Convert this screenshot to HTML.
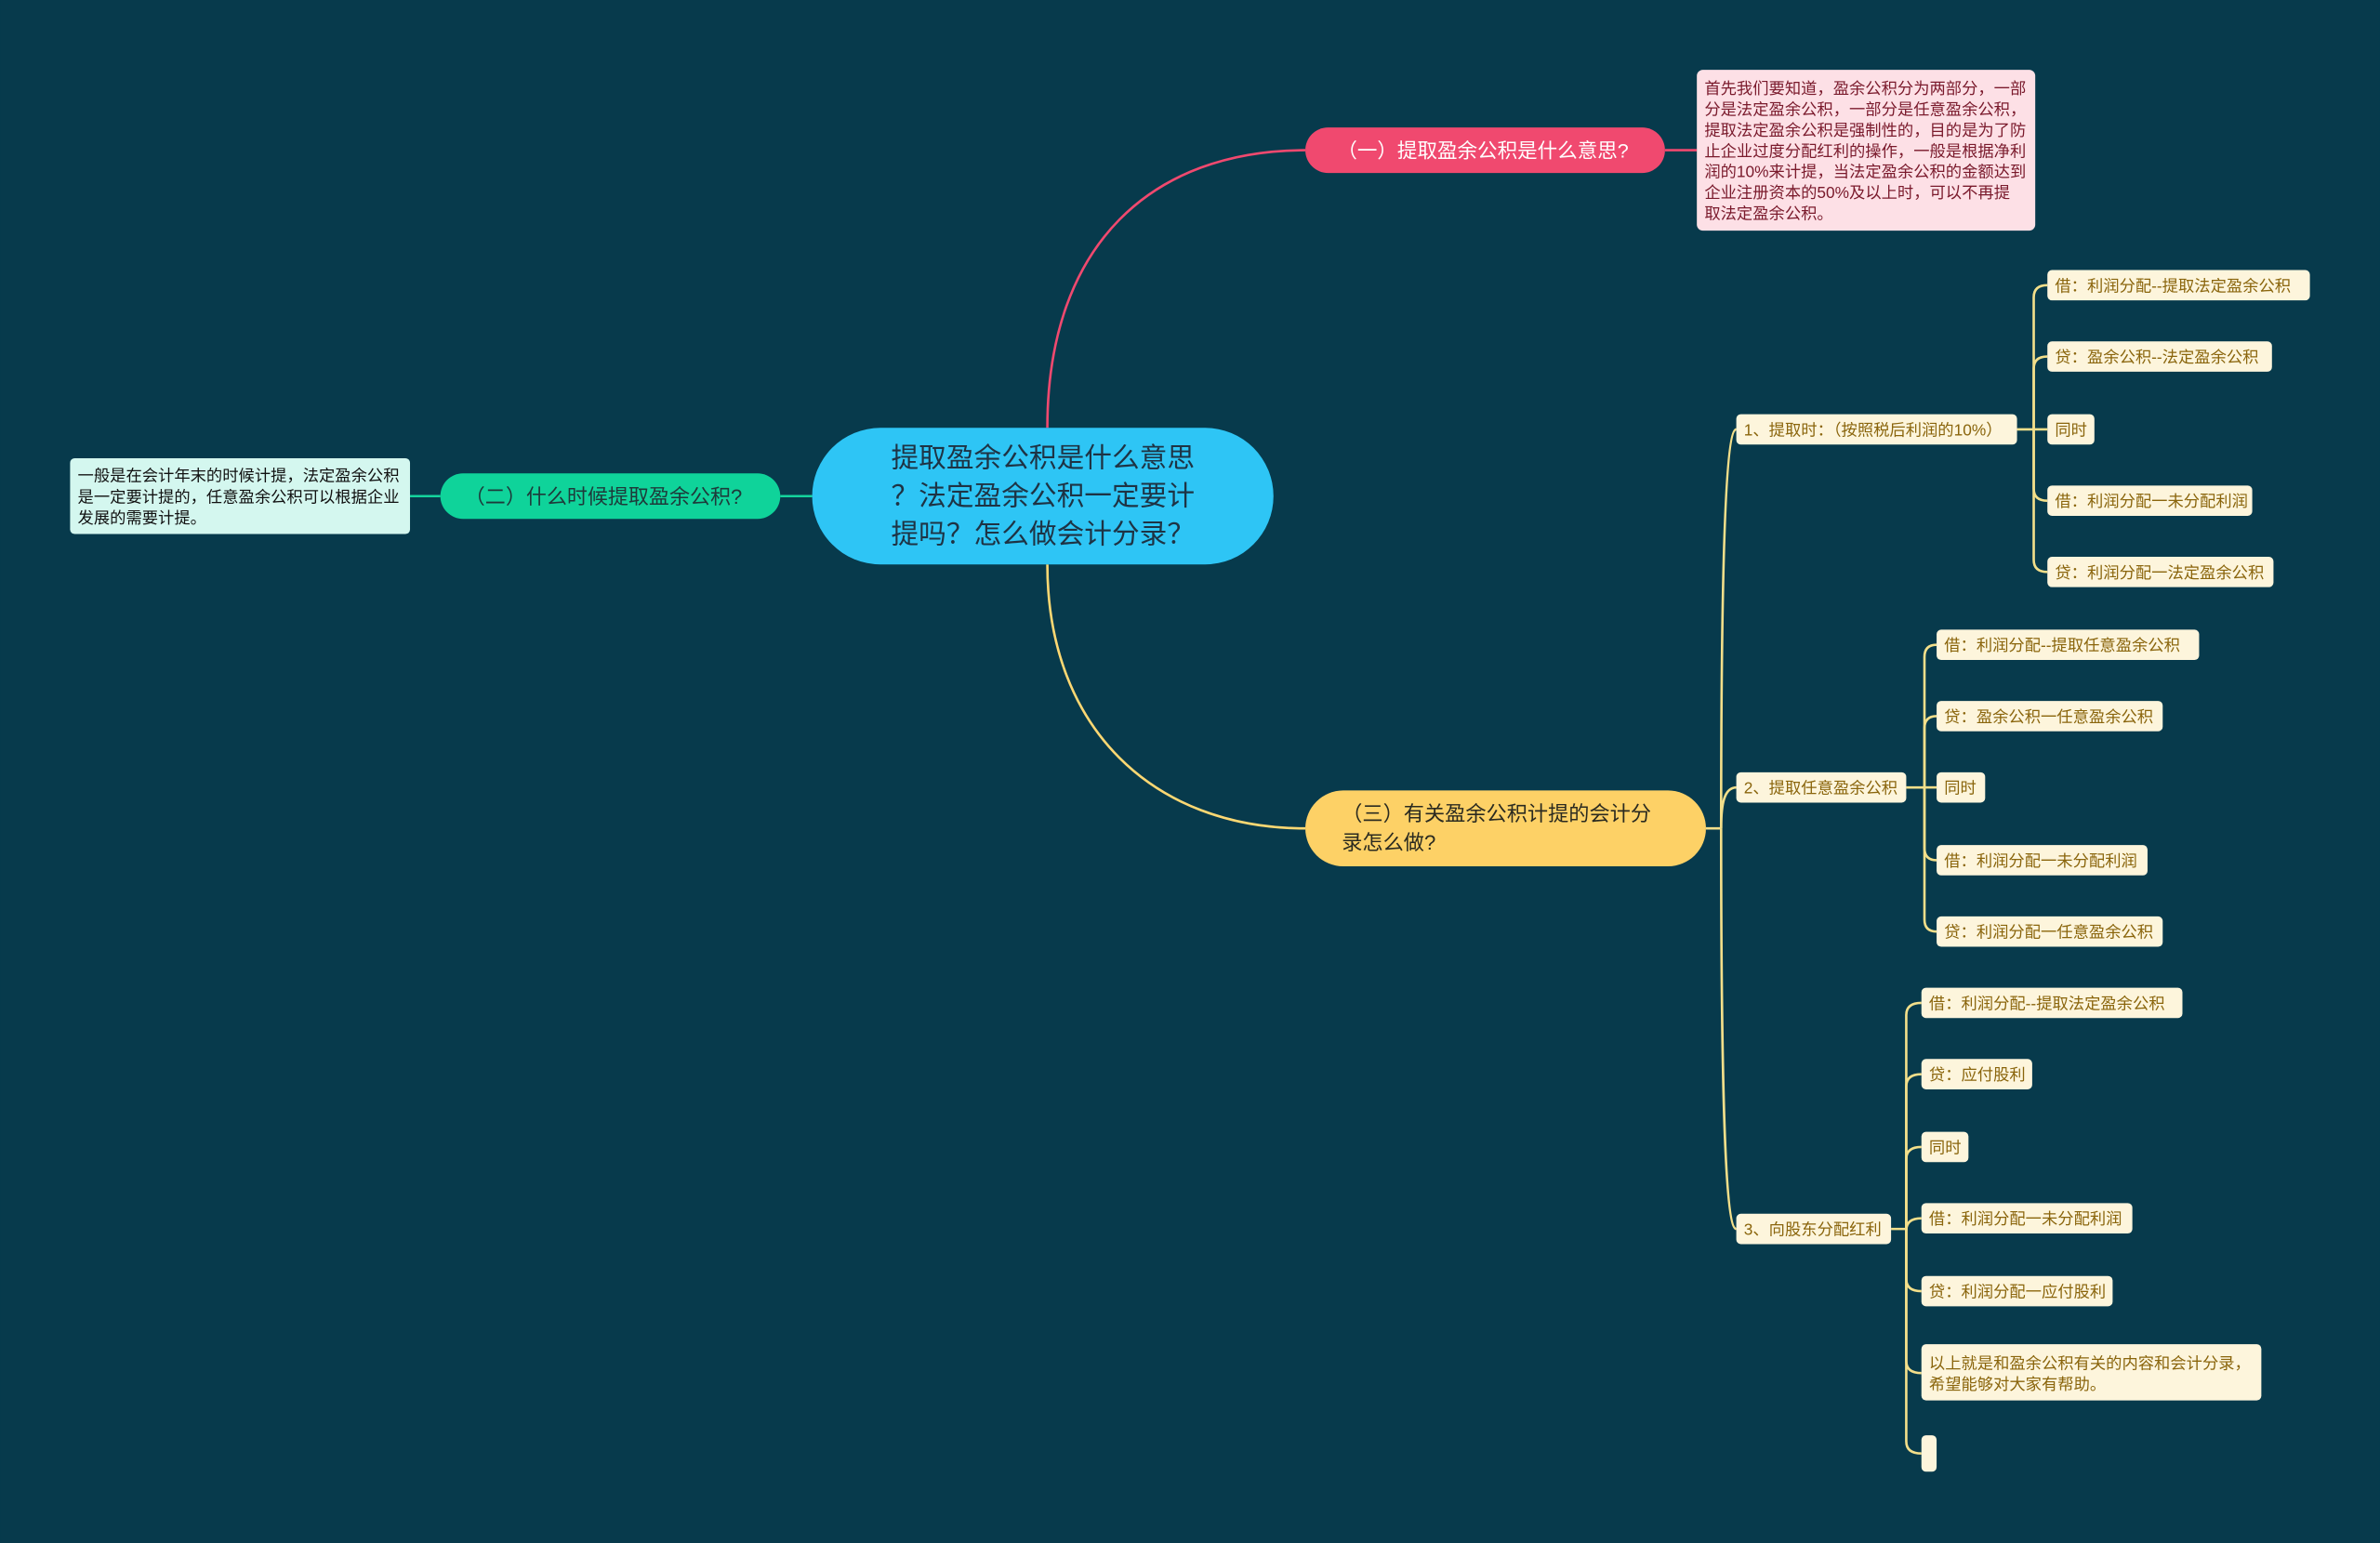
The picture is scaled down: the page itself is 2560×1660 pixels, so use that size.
<!DOCTYPE html>
<html><head><meta charset="utf-8"><style>
html,body{margin:0;padding:0;background:#073a4c;width:2560px;height:1660px;overflow:hidden}
svg{display:block}
text{font-family:"Liberation Sans","Noto Sans CJK SC",sans-serif}
</style></head><body>
<svg width="2560" height="1660" viewBox="0 0 1568 1017" xmlns="http://www.w3.org/2000/svg">
<rect width="1568" height="1017" fill="#073a4c"/>
<path d="M690,282 C690,160 760,99 860,99" fill="none" stroke="#f0496f" stroke-width="1.6"/>
<path d="M690,372 C690,480 760,546 860,546" fill="none" stroke="#fdd873" stroke-width="1.6"/>
<line x1="514" y1="327" x2="535" y2="327" stroke="#14d49d" stroke-width="1.6"/>
<line x1="270" y1="327" x2="290" y2="327" stroke="#14d49d" stroke-width="1.6"/>
<line x1="1097" y1="99" x2="1118" y2="99" stroke="#f0496f" stroke-width="1.6"/>
<g fill="none" stroke="#f3df8a" stroke-width="1.6">
<path d="M1124,546 H1134"/>
<path d="M1134,546 C1134,400 1136,283 1144,283"/>
<path d="M1134,546 C1134,530 1136,519 1144,519"/>
<path d="M1134,546 C1134,700 1136,810 1144,810"/>
<path d="M1329,283 H1340"/>
<path d="M1340,283 V196 Q1340,188 1349,188"/>
<path d="M1340,283 V243 Q1340,235 1349,235"/>
<path d="M1340,283 H1349"/>
<path d="M1340,283 V322 Q1340,330 1349,330"/>
<path d="M1340,283 V369 Q1340,377 1349,377"/>
<path d="M1256,519 H1268"/>
<path d="M1268,519 V433 Q1268,425 1276,425"/>
<path d="M1268,519 V480 Q1268,472 1276,472"/>
<path d="M1268,519 H1276"/>
<path d="M1268,519 V559 Q1268,567 1276,567"/>
<path d="M1268,519 V606 Q1268,614 1276,614"/>
<path d="M1246,810 H1256"/>
<path d="M1256,810 V669 Q1256,661 1266,661"/>
<path d="M1256,810 V716 Q1256,708 1266,708"/>
<path d="M1256,810 V764 Q1256,756 1266,756"/>
<path d="M1256,810 V811 Q1256,803 1266,803"/>
<path d="M1256,810 V843 Q1256,851 1266,851"/>
<path d="M1256,810 V897 Q1256,905 1266,905"/>
<path d="M1256,810 V950 Q1256,958 1266,958"/>
</g>
<rect x="535" y="282" width="304" height="90" rx="45" fill="#2ec5f5"/>
<g font-size="18.2" fill="#1e3344">
<text x="587" y="308">提取盈余公积是什么意思</text>
<text x="587" y="333">？法定盈余公积一定要计</text>
<text x="587" y="358">提吗？怎么做会计分录？</text>
</g>
<rect x="860" y="84" width="237" height="30" rx="15" fill="#f0496f"/>
<text x="881" y="104" font-size="13.2" fill="#fff">（一）提取盈余公积是什么意思?</text>
<rect x="1118" y="46" width="223" height="106" rx="4" fill="#fde0e6"/>
<g font-size="10.6" fill="#7a1a2c">
<text x="1123" y="62">首先我们要知道，盈余公积分为两部分，一部</text>
<text x="1123" y="75.7">分是法定盈余公积，一部分是任意盈余公积，</text>
<text x="1123" y="89.4">提取法定盈余公积是强制性的，目的是为了防</text>
<text x="1123" y="103.1">止企业过度分配红利的操作，一般是根据净利</text>
<text x="1123" y="116.8">润的10%来计提，当法定盈余公积的金额达到</text>
<text x="1123" y="130.5">企业注册资本的50%及以上时，可以不再提</text>
<text x="1123" y="144.2">取法定盈余公积。</text>
</g>
<rect x="290" y="312" width="224" height="30" rx="15" fill="#0fd39a"/>
<text x="306" y="332" font-size="13.5" fill="#1e3a3a">（二）什么时候提取盈余公积?</text>
<rect x="46" y="302" width="224" height="50" rx="3" fill="#d4f7ef"/>
<g font-size="10.6" fill="#111">
<text x="51" y="317">一般是在会计年末的时候计提，法定盈余公积</text>
<text x="51" y="331">是一定要计提的，任意盈余公积可以根据企业</text>
<text x="51" y="345">发展的需要计提。</text>
</g>
<rect x="860" y="521" width="264" height="50" rx="25" fill="#fdd166"/>
<g font-size="13.6" fill="#2a2a20">
<text x="884" y="541">（三）有关盈余公积计提的会计分</text>
<text x="884" y="560">录怎么做?</text>
</g>
<g fill="#fdf5dc">
<rect x="1144" y="273" width="185" height="20" rx="3"/>
<rect x="1144" y="509" width="112" height="20" rx="3"/>
<rect x="1144" y="800" width="102" height="20" rx="3"/>
<rect x="1349" y="178" width="173" height="20" rx="3"/>
<rect x="1349" y="225" width="148" height="20" rx="3"/>
<rect x="1349" y="273" width="31" height="20" rx="3"/>
<rect x="1349" y="320" width="135" height="20" rx="3"/>
<rect x="1349" y="367" width="149" height="20" rx="3"/>
<rect x="1276" y="415" width="173" height="20" rx="3"/>
<rect x="1276" y="462" width="149" height="20" rx="3"/>
<rect x="1276" y="509" width="32" height="20" rx="3"/>
<rect x="1276" y="557" width="139" height="20" rx="3"/>
<rect x="1276" y="604" width="149" height="20" rx="3"/>
<rect x="1266" y="651" width="172" height="20" rx="3"/>
<rect x="1266" y="698" width="73" height="20" rx="3"/>
<rect x="1266" y="746" width="31" height="20" rx="3"/>
<rect x="1266" y="793" width="139" height="20" rx="3"/>
<rect x="1266" y="841" width="126" height="20" rx="3"/>
<rect x="1266" y="886" width="224" height="37" rx="3"/>
<rect x="1266" y="946" width="10" height="24" rx="3"/>
</g>
<g font-size="10.6" fill="#8a650c">
<text x="1149" y="287">1、提取时：（按照税后利润的10%）</text>
<text x="1149" y="523">2、提取任意盈余公积</text>
<text x="1149" y="814">3、向股东分配红利</text>
<text x="1354" y="192">借：利润分配--提取法定盈余公积</text>
<text x="1354" y="239">贷：盈余公积--法定盈余公积</text>
<text x="1354" y="287">同时</text>
<text x="1354" y="334">借：利润分配一未分配利润</text>
<text x="1354" y="381">贷：利润分配一法定盈余公积</text>
<text x="1281" y="429">借：利润分配--提取任意盈余公积</text>
<text x="1281" y="476">贷：盈余公积一任意盈余公积</text>
<text x="1281" y="523">同时</text>
<text x="1281" y="571">借：利润分配一未分配利润</text>
<text x="1281" y="618">贷：利润分配一任意盈余公积</text>
<text x="1271" y="665">借：利润分配--提取法定盈余公积</text>
<text x="1271" y="712">贷：应付股利</text>
<text x="1271" y="760">同时</text>
<text x="1271" y="807">借：利润分配一未分配利润</text>
<text x="1271" y="855">贷：利润分配一应付股利</text>
<text x="1271" y="902">以上就是和盈余公积有关的内容和会计分录，</text>
<text x="1271" y="916">希望能够对大家有帮助。</text>
</g>
</svg>
</body></html>
